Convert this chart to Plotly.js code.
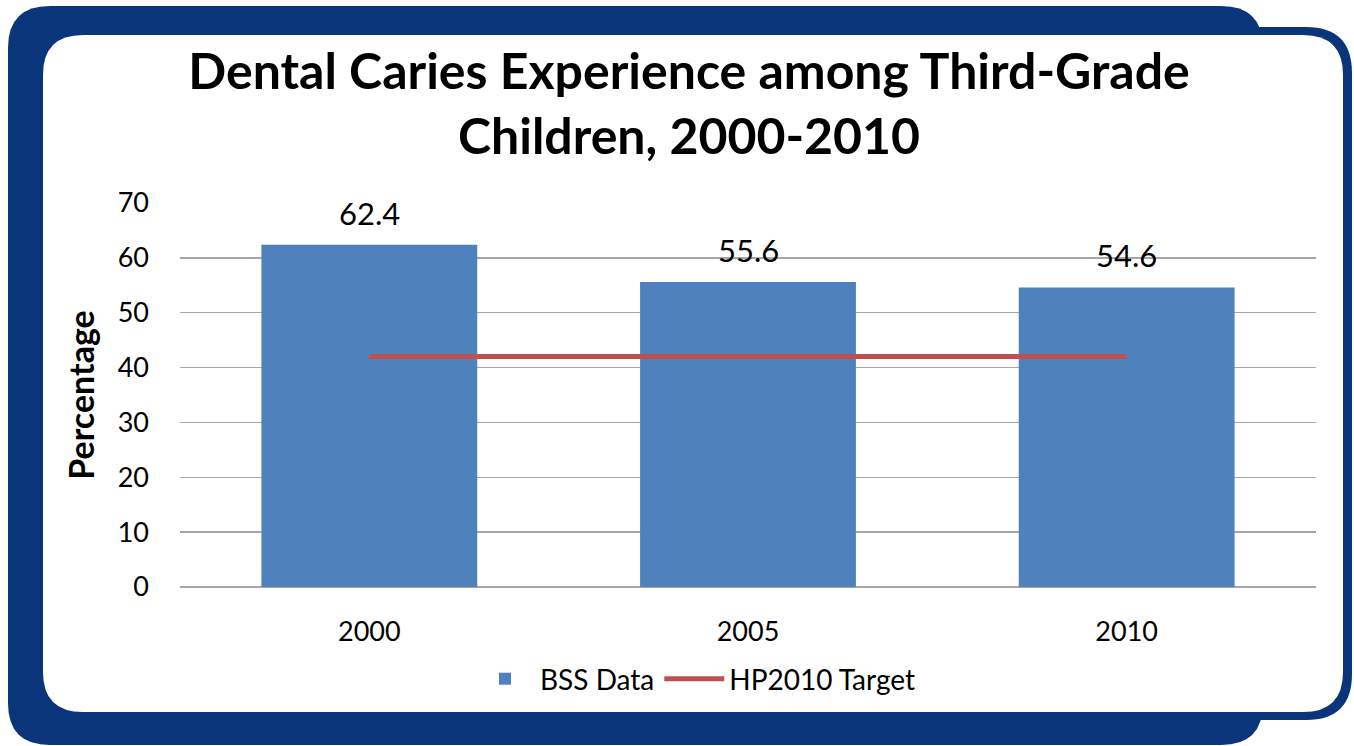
<!DOCTYPE html>
<html>
<head>
<meta charset="utf-8">
<script src="https://cdn.plot.ly/plotly-3.0.1.min.js"></script>
<style>
  html, body { margin: 0; padding: 0; background: #ffffff; }
  #chart { width: 1354px; height: 746px; }
</style>
</head>
<body>
<div id="chart"></div>
<script>
// ---- Data ----
const years = ['2000', '2005', '2010'];
const bssData = [62.4, 55.6, 54.6];
const hp2010Target = [42, 42, 42];
const seriesNames = ['BSS Data', 'HP2010 Target'];
const chartTitle = 'Dental Caries Experience among Third-Grade<br>Children, 2000-2010';
const yTitle = 'Percentage';

// ---- Layout geometry ----
const W = 1354, H = 746;
const M = { l: 180, r: 38, t: 203, b: 159 };
const PW = W - M.l - M.r, PH = H - M.t - M.b;
const px = x => (x - M.l) / PW;
const py = y => (H - M.b - y) / PH;

function roundRect(x0, y0, x1, y1, r) {
  const f = (x, y) => px(x).toFixed(5) + ',' + py(y).toFixed(5);
  return 'M' + f(x0 + r, y0) +
    ' L' + f(x1 - r, y0) + ' Q' + f(x1, y0) + ' ' + f(x1, y0 + r) +
    ' L' + f(x1, y1 - r) + ' Q' + f(x1, y1) + ' ' + f(x1 - r, y1) +
    ' L' + f(x0 + r, y1) + ' Q' + f(x0, y1) + ' ' + f(x0, y1 - r) +
    ' L' + f(x0, y0 + r) + ' Q' + f(x0, y0) + ' ' + f(x0 + r, y0) + ' Z';
}

const navy = '#0a357a';
const frameShapes = [
  { type: 'path', xref: 'paper', yref: 'paper', layer: 'below',
    path: roundRect(8, 6, 1263, 745, 42), fillcolor: navy, line: { width: 0 } },
  { type: 'path', xref: 'paper', yref: 'paper', layer: 'below',
    path: roundRect(30, 27, 1352, 720, 46), fillcolor: navy, line: { width: 0 } },
  { type: 'path', xref: 'paper', yref: 'paper', layer: 'below',
    path: roundRect(43, 35, 1343, 712, 40), fillcolor: '#ffffff', line: { width: 0 } }
];

const font = 'Lato, "Open Sans", sans-serif';

const traces = [
  {
    type: 'bar', name: seriesNames[0], x: years, y: bssData,
    marker: { color: '#4f81bd' }
  },
  {
    type: 'scatter', mode: 'lines', name: seriesNames[1], x: years, y: hp2010Target,
    line: { color: '#c0504d', width: 5 }
  }
];

// data labels: x given as the category index on the category axis
const labelAnnotations = years.map((yr, i) => ({
  x: i, y: bssData[i], xref: 'x', yref: 'y',
  text: bssData[i].toFixed(1), showarrow: false,
  yanchor: 'bottom', yshift: 11,
  font: { family: font, size: 31, color: '#000' }
}));

const layout = {
  width: W, height: H,
  margin: M,
  paper_bgcolor: '#ffffff',
  plot_bgcolor: 'rgba(0,0,0,0)',
  font: { family: font, size: 27, color: '#000' },
  title: {
    text: chartTitle,
    font: { family: font, size: 50, color: '#000', weight: 'bold' },
    x: 689 / W, xanchor: 'center', xref: 'container',
    y: 1 - 89 / H, yanchor: 'top', yref: 'container'
  },
  bargap: 0.43,
  showlegend: true,
  legend: {
    orientation: 'h', x: px(695), xanchor: 'center', y: py(679), yanchor: 'middle',
    font: { family: font, size: 28, color: '#000' },
    bgcolor: 'rgba(0,0,0,0)', itemwidth: 60
  },
  xaxis: {
    type: 'category', categoryorder: 'array', categoryarray: years,
    range: [-0.5, years.length - 0.5], autorange: false,
    showgrid: false, showline: false, ticks: '',
    zeroline: false, ticklabelstandoff: 26,
    tickfont: { family: font, size: 27, color: '#000' }
  },
  yaxis: {
    range: [0, 70], autorange: false, dtick: 10, tick0: 0,
    showgrid: true, gridcolor: '#a6a6a6', gridwidth: 1.5,
    zeroline: true, zerolinecolor: '#a6a6a6', zerolinewidth: 1.5,
    showline: false, ticks: '', ticklabelstandoff: 30,
    tickfont: { family: font, size: 27, color: '#000' },
    title: { text: yTitle + '\u00a0\u00a0\u00a0', standoff: 12,
      font: { family: font, size: 34, color: '#000', weight: 'bold' } }
  },
  shapes: frameShapes,
  annotations: labelAnnotations
};

Plotly.newPlot('chart', traces, layout, { displayModeBar: false, staticPlot: true });
</script>
</body>
</html>
